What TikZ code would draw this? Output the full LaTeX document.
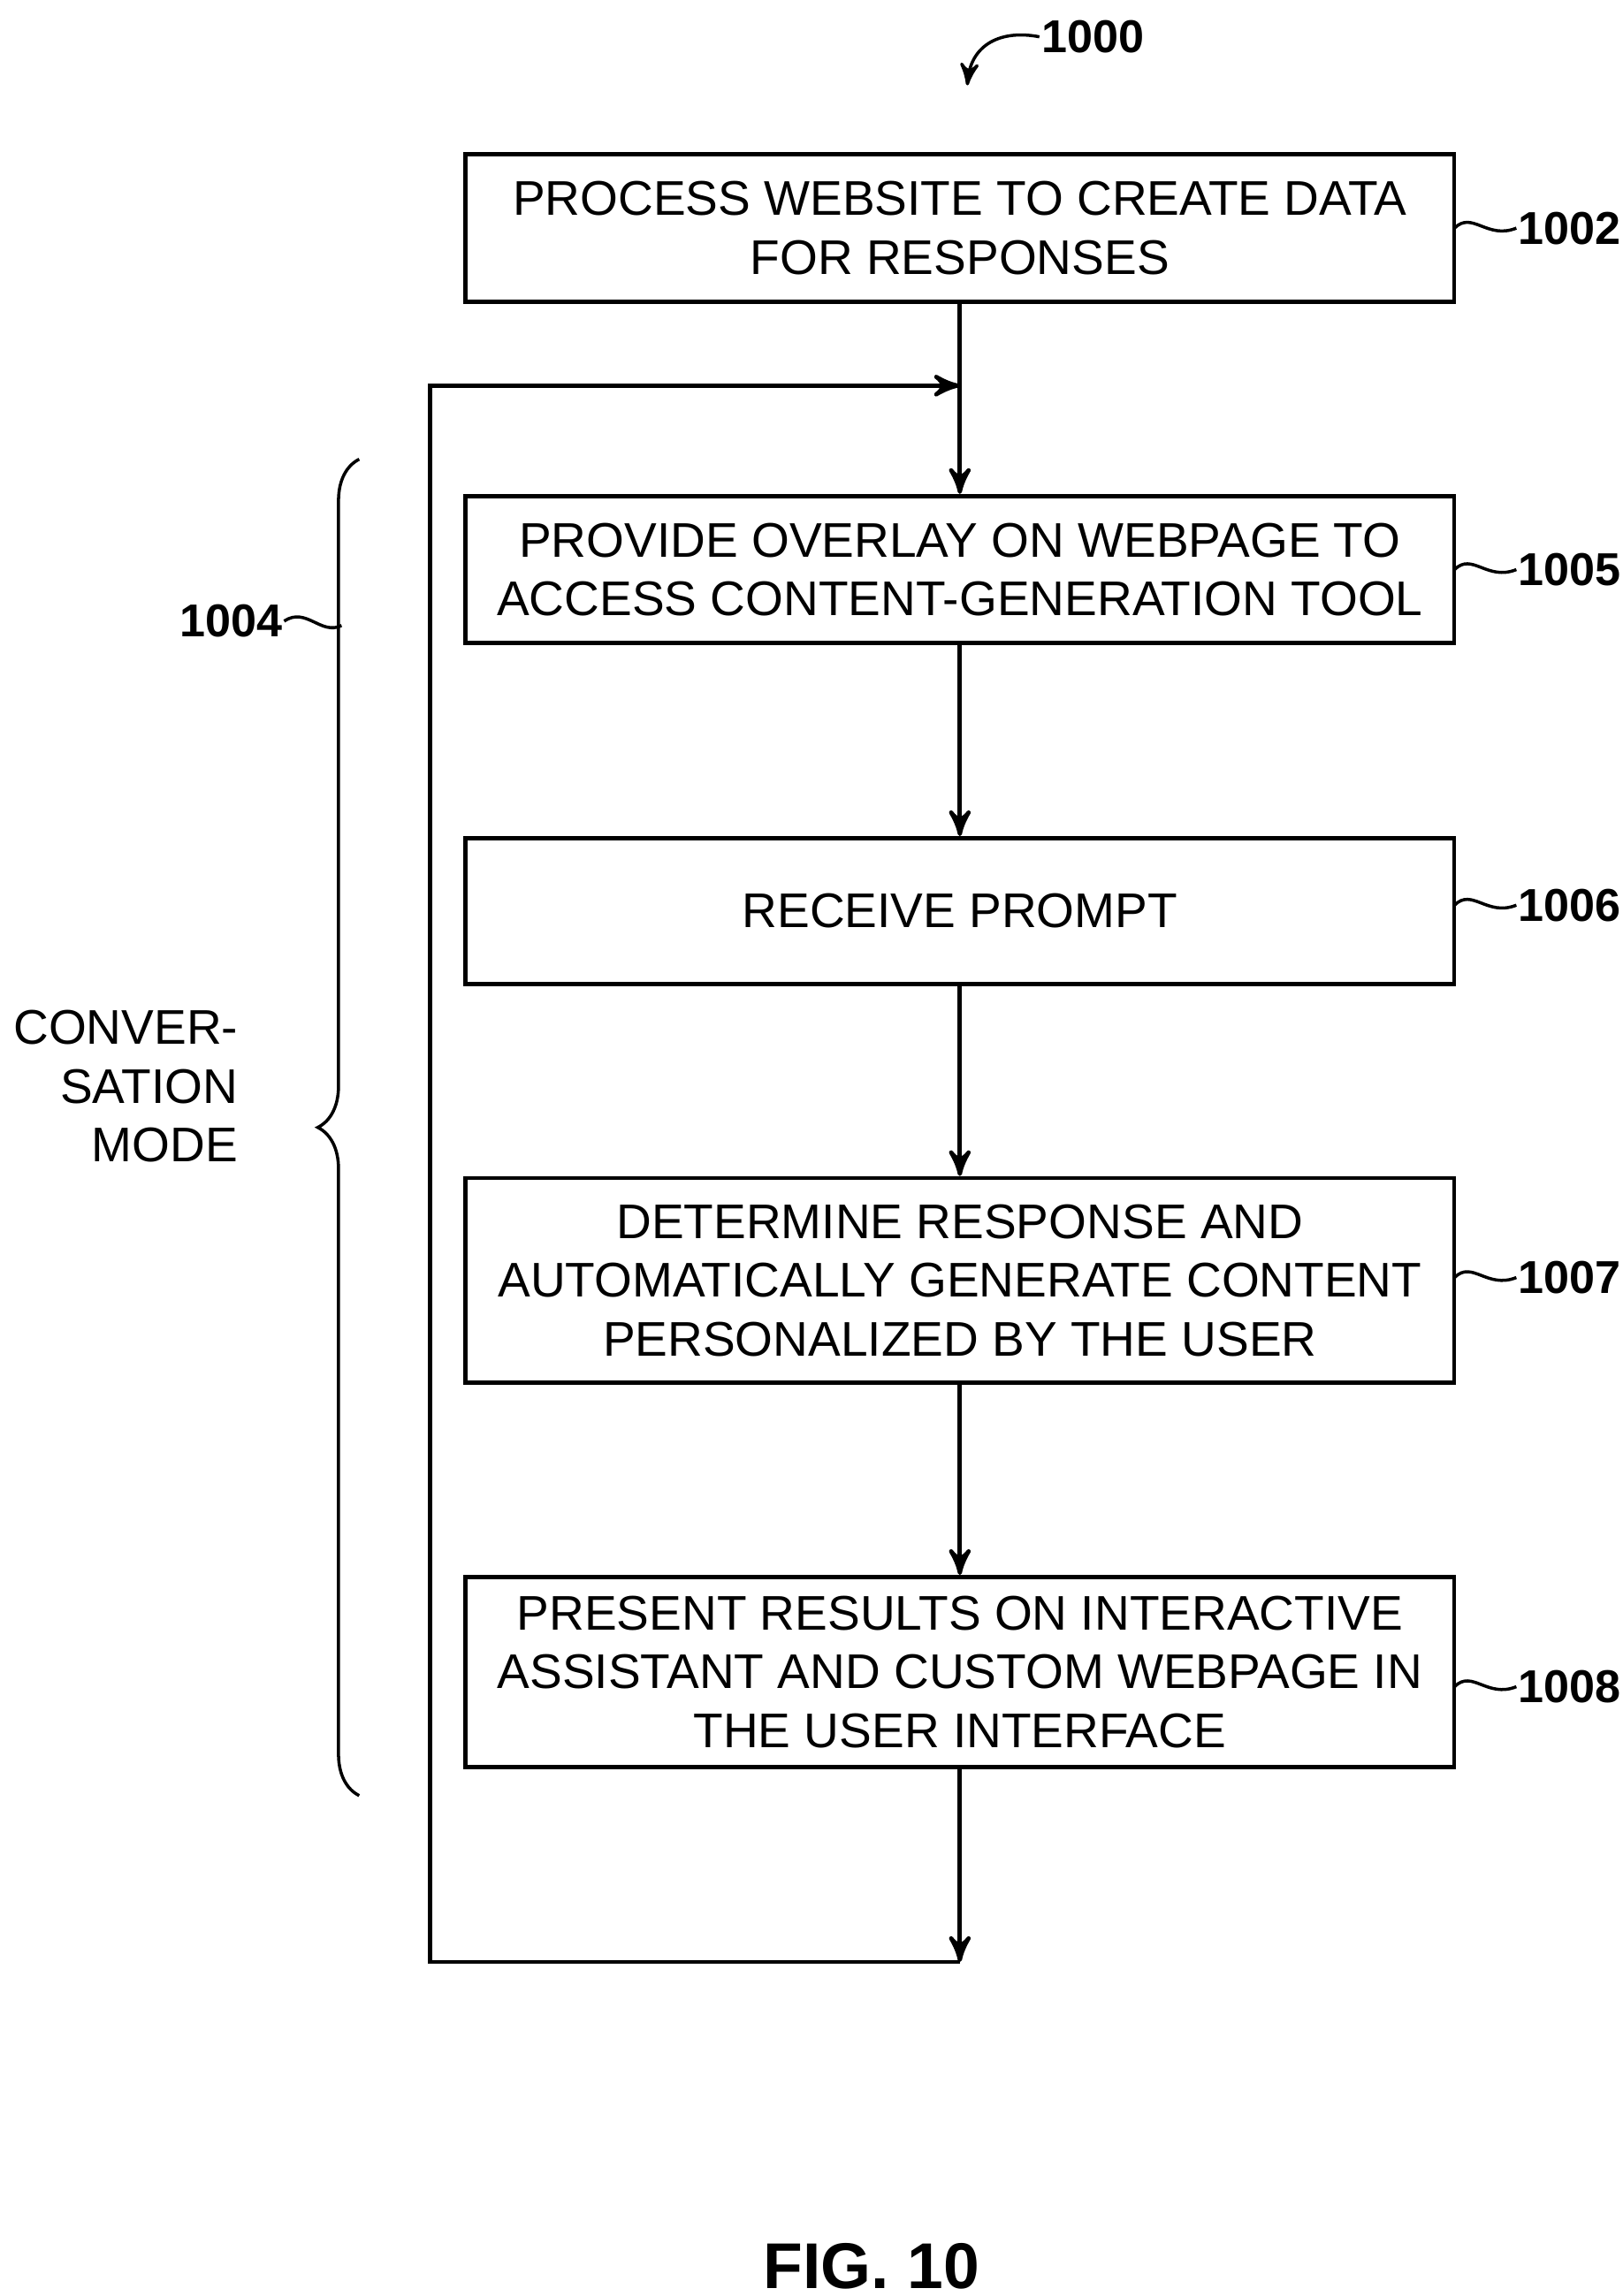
\documentclass[tikz,border=0pt]{standalone}
\usepackage{fontspec}
\setmainfont{Liberation Sans}
\usetikzlibrary{arrows,positioning,decorations.pathreplacing}
\begin{document}
\begin{tikzpicture}[x=0.01cm,y=-0.01cm,>=stealth',thick,
  step box/.style={rectangle,draw,minimum width=6.71cm,align=center,font=\fontsize{9.4}{11.4}\selectfont,inner sep=0pt},
  ref/.style={font=\fontsize{8.9}{11}\selectfont\bfseries,inner sep=0pt},
  squig/.style={semithick}]
  \useasboundingbox (0,0) rectangle (1102,1560);

  \node[step box,minimum height=1cm] (1002) at (652,155) {PROCESS WEBSITE TO CREATE DATA\\FOR RESPONSES};
  \node[step box,minimum height=1cm] (1005) at (652,387) {PROVIDE OVERLAY ON WEBPAGE TO\\ACCESS CONTENT-GENERATION TOOL};
  \node[step box,minimum height=0.99cm] (1006) at (652,619) {RECEIVE PROMPT};
  \node[step box,minimum height=1.39cm] (1007) at (652,870) {DETERMINE RESPONSE AND\\AUTOMATICALLY GENERATE CONTENT\\PERSONALIZED BY THE USER};
  \node[step box,minimum height=1.29cm] (1008) at (652,1136) {PRESENT RESULTS ON INTERACTIVE\\ASSISTANT AND CUSTOM WEBPAGE IN\\THE USER INTERFACE};

  \coordinate (join) at (652,262);
  \coordinate (loopend) at (652,1333);
  \draw (1002) -- (join);
  \draw[->] (join) -- (1005);
  \draw[->] (1005) -- (1006);
  \draw[->] (1006) -- (1007);
  \draw[->] (1007) -- (1008);
  \draw[->] (1008) -- (loopend);
  \draw[->] (loopend) -- (292,1333) -- (292,262) -- (join);

  % reference numerals
  \foreach \n/\y in {1002/155,1005/387,1006/615,1007/868,1008/1146}{
    \node[ref,anchor=west] (r\n) at (1030,\y) {\n};
    \draw[squig] (988,\y) .. controls (1000,\y-12) and (1010,\y+8) .. (r\n.west);
  }
  \node[ref,anchor=west] (r1000) at (706,25) {1000};
  \draw[squig,->] (r1000.west) .. controls (680,20) and (660,30) .. (657,58);

  % conversation mode brace
  \draw[semithick,decorate,decoration={brace,amplitude=8pt}] (244,1220) -- (244,312);
  \node[ref,anchor=east] (r1004) at (193,422) {1004};
  \draw[squig] (r1004.east) .. controls (208,412) and (218,432) .. (232,425);
  \node[anchor=east,align=right,inner sep=0pt,font=\fontsize{9.4}{11.4}\selectfont] (mode) at (163,738) {CONVER-\\SATION\\MODE};

  \node[font=\fontsize{12.5}{14}\selectfont\bfseries] (fig) at (592,1540) {FIG. 10};
\end{tikzpicture}
\end{document}
